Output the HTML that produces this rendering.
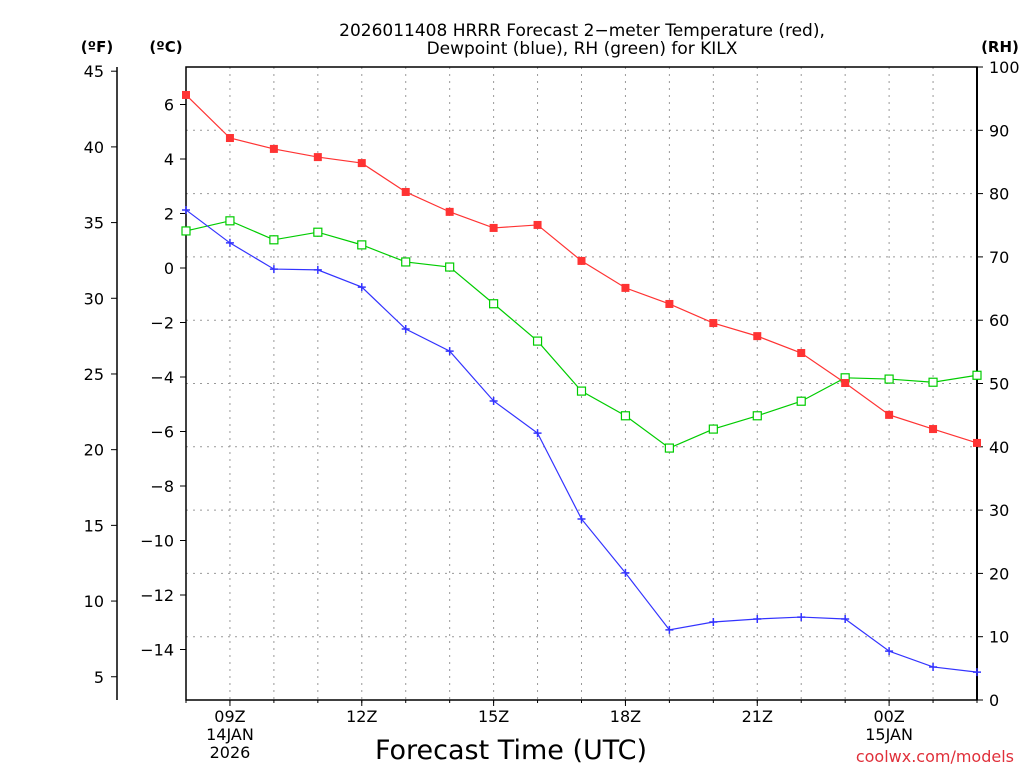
<!DOCTYPE html>
<html><head><meta charset="utf-8"><style>
body{margin:0;background:#fff;width:1024px;height:768px;overflow:hidden}
svg text{font-family:"DejaVu Sans","Liberation Sans",sans-serif;fill:#000}
</style></head><body>
<svg id="c" width="1024" height="768"></svg>
<script>
const hours=[8,9,10,11,12,13,14,15,16,17,18,19,20,21,22,23,24,25,26];
const tempC=[6.35,4.77,4.37,4.07,3.85,2.79,2.06,1.47,1.58,0.26,-0.73,-1.32,-2.02,-2.5,-3.12,-4.22,-5.39,-5.91,-6.42];
const dewC=[2.13,0.92,-0.04,-0.07,-0.7,-2.24,-3.05,-4.88,-6.06,-9.21,-11.19,-13.28,-12.99,-12.88,-12.81,-12.88,-14.06,-14.64,-14.83];
const rh=[74.1,75.7,72.7,73.9,71.9,69.2,68.4,62.6,56.7,48.8,44.9,39.8,42.8,44.9,47.2,50.9,50.7,50.2,51.3];
const cTicks=[6,4,2,0,-2,-4,-6,-8,-10,-12,-14];
const fTicks=[45,40,35,30,25,20,15,10,5];
const rhTicks=[0,10,20,30,40,50,60,70,80,90,100];
const xTicks=[{h:9,l:["09Z","14JAN","2026"]},{h:12,l:["12Z"]},{h:15,l:["15Z"]},{h:18,l:["18Z"]},{h:21,l:["21Z"]},{h:24,l:["00Z","15JAN"]}];

const L=186,R=977,T=67,B=700;
const X=h=>L+(h-8)*(R-L)/18;
const YC=c=>268-c*27.25;
const YF=f=>YC((f-32)/1.8);
const YR=r=>B-r*(B-T)/100;
const svg=document.getElementById('c');
const NS='http://www.w3.org/2000/svg';
function el(t,a,p){const e=document.createElementNS(NS,t);for(const k in a)e.setAttribute(k,a[k]);(p||svg).appendChild(e);return e;}
function txt(x,y,s,a,size){const e=el('text',{x:x,y:y,'text-anchor':a||'middle','font-size':size||16});e.textContent=s;return e;}

// grid
hours.forEach(h=>{if(h%1===0&&h>8&&h<26){const g=el('line',{x1:X(h),x2:X(h),y1:T,y2:B,stroke:'#999','stroke-dasharray':'2,5'});

}});
rhTicks.forEach(r=>{if(r>0&&r<100){const g=el('line',{x1:L,x2:R,y1:YR(r),y2:YR(r),stroke:'#999','stroke-dasharray':'2,5'});

}});
// frame
const fr=el('rect',{x:L,y:T,width:R-L,height:B-T,fill:'none',stroke:'#000','stroke-width':1.5});


el('line',{x1:R,x2:R,y1:T,y2:B,stroke:'#000','stroke-width':2});
// C axis
cTicks.forEach(c=>{el('line',{x1:L-6,x2:L,y1:YC(c),y2:YC(c),stroke:'#000'});const t=txt(L-12,YC(c)+6,c<0?'−'+(-c):String(c),'end');

});
// F axis
el('line',{x1:117,x2:117,y1:67,y2:700,stroke:'#000','stroke-width':1.5});
fTicks.forEach(f=>{el('line',{x1:111,x2:117,y1:YF(f),y2:YF(f),stroke:'#000'});const t=txt(104,YF(f)+6,String(f),'end');

});
// RH axis
rhTicks.forEach(r=>{el('line',{x1:R,x2:R+6,y1:YR(r),y2:YR(r),stroke:'#000'});const t=txt(989,YR(r)+6,String(r),'start');

});
// x ticks
xTicks.forEach(o=>{el('line',{x1:X(o.h),x2:X(o.h),y1:B,y2:B+6,stroke:'#000'});o.l.forEach((s,i)=>{const t=txt(X(o.h),B+22+i*18,s);

});});
hours.forEach(h=>el('line',{x1:X(h),x2:X(h),y1:B,y2:B+3,stroke:'#000'}));

function series(vals,yf,color,name,marker){
 const pts=vals.map((v,i)=>X(hours[i])+','+yf(v)).join(' ');
 const pl=el('polyline',{points:pts,fill:'none',stroke:color,'stroke-width':1.2});
 
 
 vals.forEach((v,i)=>{const x=X(hours[i]),y=yf(v);let m;
  if(marker==='fill'){m=el('rect',{x:x-4,y:y-4,width:8,height:8,fill:color});}
  else if(marker==='open'){m=el('rect',{x:x-4,y:y-4,width:8,height:8,fill:'#fff',stroke:color,'stroke-width':1.2});}
  else{m=el('path',{d:`M${x-4} ${y}H${x+4}M${x} ${y-4}V${y+4}`,stroke:color,'stroke-width':1.5});}
  
  });
}
series(rh,YR,'#00cc00','rh','open');
series(tempC,YC,'#ff3333','temperature','fill');
series(dewC,YC,'#3333ff','dewpoint','plus');

const t1=txt(582,36,'2026011408 HRRR Forecast 2−meter Temperature (red),','middle',17);

const t2=txt(582,54,'Dewpoint (blue), RH (green) for KILX','middle',17);

const a1=txt(97,52,'(ºF)','middle',15);a1.setAttribute('font-weight','bold');

const a2=txt(166,52,'(ºC)','middle',15);a2.setAttribute('font-weight','bold');

const a3=txt(1000,52,'(RH)','middle',15);a3.setAttribute('font-weight','bold');

const xt=txt(511,759,'Forecast Time (UTC)','middle',27);

const cr=txt(1014,762,'coolwx.com/models','end',16);cr.setAttribute('style','fill:#e0303a');

</script>
</body></html>
